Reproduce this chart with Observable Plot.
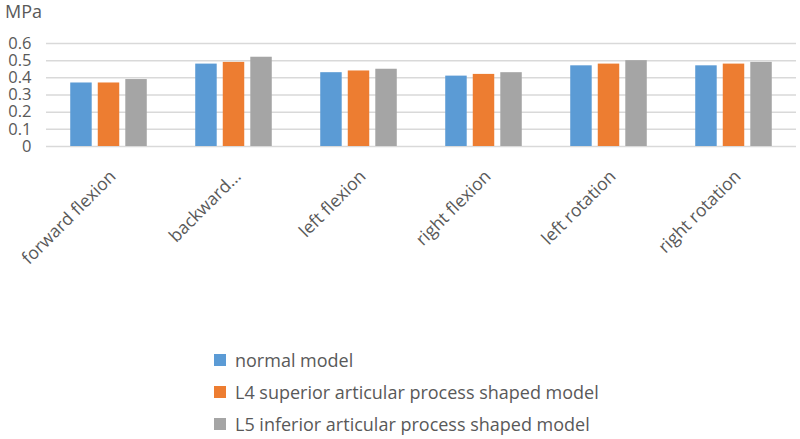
<!DOCTYPE html>
<html>
<head>
<meta charset="utf-8">
<script src="https://cdn.jsdelivr.net/npm/d3@7"></script>
<script src="https://cdn.jsdelivr.net/npm/@observablehq/plot@0.6"></script>
<style>
  body { margin: 0; background: #fff; font-family: "Open Sans", sans-serif; }
  #wrap { position: relative; width: 800px; height: 439px; overflow: hidden; }
  #unit { position: absolute; left: 5px; top: -1px; font-size: 18px; color: #595959; }
  #legend { position: absolute; left: 214px; top: 344px; font-size: 18px; color: #595959; }
  .row { height: 32px; display: flex; align-items: center; }
  .sw { width: 12px; height: 12px; margin-right: 9px; }
</style>
</head>
<body>
<div id="wrap">
  <div id="chart"></div>
  <div id="unit">MPa</div>
  <div id="legend"></div>
</div>
<script>
const categories = ["forward flexion", "backward...", "left flexion", "right flexion", "left rotation", "right rotation"];
const seriesNames = ["normal model", "L4 superior articular process shaped model", "L5 inferior articular process shaped model"];
const seriesColors = ["#5b9bd5", "#ed7d31", "#a5a5a5"];
const normalModel = [0.37, 0.48, 0.43, 0.41, 0.47, 0.47];
const l4Model = [0.37, 0.49, 0.44, 0.42, 0.48, 0.48];
const l5Model = [0.39, 0.52, 0.45, 0.43, 0.50, 0.49];
const yTicks = [0, 0.1, 0.2, 0.3, 0.4, 0.5, 0.6];
const yTickLabels = ["0", "0.1", "0.2", "0.3", "0.4", "0.5", "0.6"];

const seriesValues = [normalModel, l4Model, l5Model];
const data = [];
categories.forEach((c, i) => {
  seriesNames.forEach((s, j) => data.push({category: c, series: s, value: seriesValues[j][i]}));
});

const chart = Plot.plot({
  width: 800,
  height: 344,
  marginLeft: 46,
  marginRight: 4,
  marginTop: 43,
  marginBottom: 198,
  style: {fontFamily: "Open Sans, sans-serif", background: "transparent"},
  fx: {domain: categories, padding: 0, round: false},
  x: {domain: seriesNames, paddingInner: 0.22, paddingOuter: 0.88, round: false, axis: null},
  y: {domain: [0, 0.6], axis: null},
  color: {domain: seriesNames, range: seriesColors},
  marks: [
    Plot.ruleY(yTicks, {stroke: "#d9d9d9", strokeWidth: 1.5}),
    Plot.axisY({ticks: yTicks, tickFormat: (d, i) => yTickLabels[i], tickSize: 0, tickPadding: 15, fontSize: 16.5, fill: "#595959", label: null}),
    Plot.axisFx({anchor: "bottom", tickRotate: -45, tickSize: 0, tickPadding: 27, dx: 4, fontSize: 17.5, fill: "#595959", label: null}),
    Plot.barY(data, {fx: "category", x: "series", y: "value", fill: "series"})
  ]
});
document.getElementById("chart").appendChild(chart);

const legend = document.getElementById("legend");
seriesNames.forEach((s, j) => {
  const row = document.createElement("div");
  row.className = "row";
  const sw = document.createElement("div");
  sw.className = "sw";
  sw.style.background = seriesColors[j];
  const t = document.createElement("span");
  t.textContent = s;
  row.appendChild(sw);
  row.appendChild(t);
  legend.appendChild(row);
});
</script>
</body>
</html>
